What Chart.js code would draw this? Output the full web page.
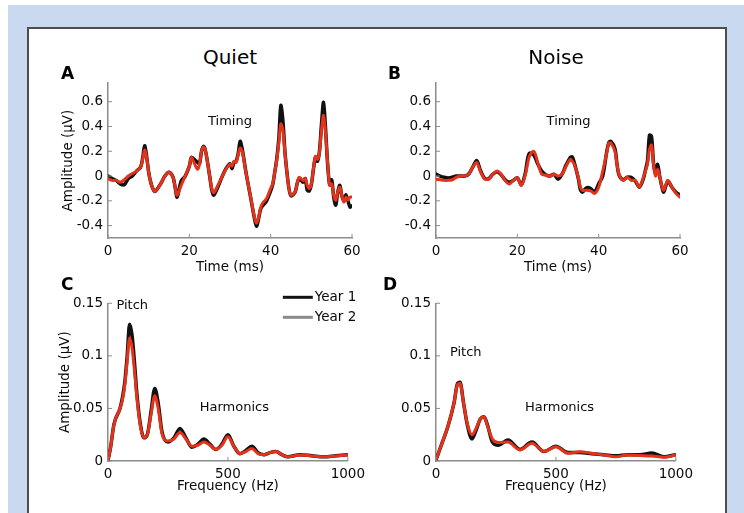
<!DOCTYPE html>
<html>
<head>
<meta charset="utf-8">
<script src="https://cdn.jsdelivr.net/npm/chart.js@4.4.1/dist/chart.umd.min.js"></script>
<style>
  html, body { margin: 0; padding: 0; background: #fff; }
  body { width: 744px; height: 513px; position: relative; overflow: hidden; font-family: "DejaVu Sans", sans-serif; }
  .bg { position: absolute; left: 8px; top: 5px; right: 0; bottom: 0; background: #c9d9ef; }
  .panel { position: absolute; left: 27px; top: 27px; width: 696px; height: 520px; background: #fff; border: 2px solid #4d4d4d; border-bottom: none; }
  canvas { position: absolute; }
  .title { position: absolute; width: 100px; text-align: center; font-size: 20px; line-height: 20px; top: 47px; color: #000; }
  .letter { position: absolute; font-weight: bold; font-size: 17px; line-height: 17px; color: #000; }
</style>
</head>
<body>
<div class="bg"></div>
<div class="panel"></div>
<canvas id="chartA" width="330" height="210" style="left:40px; top:70px"></canvas>
<canvas id="chartB" width="330" height="210" style="left:368px; top:70px"></canvas>
<canvas id="chartC" width="330" height="210" style="left:40px; top:290px"></canvas>
<canvas id="chartD" width="330" height="210" style="left:368px; top:290px"></canvas>
<div class="title" style="left:180px">Quiet</div>
<div class="title" style="left:506px">Noise</div>
<div class="letter" style="left:61px; top:65px">A</div>
<div class="letter" style="left:388px; top:65px">B</div>
<div class="letter" style="left:61px; top:276px">C</div>
<div class="letter" style="left:383px; top:276px">D</div>
<script>
// ---- data ----
const seriesNames = ['Year 1', 'Year 2'];

// A: response in quiet (time domain)
const timeQuiet = [0, 1, 2, 3, 4, 5, 6, 7, 8, 8.5, 9, 9.5, 10, 10.5, 11, 11.5, 12, 13, 14, 15, 16, 16.5, 17, 18, 19, 20, 20.5, 21, 22, 22.5, 23, 23.5, 24, 25, 25.5, 26, 27, 28, 29, 30, 30.5, 31, 31.5, 32, 32.5, 33, 33.5, 34, 35, 36, 36.5, 37, 37.5, 38, 39, 40, 40.5, 41, 41.5, 42, 42.5, 43, 43.5, 44, 44.5, 45, 46, 46.5, 47, 48, 48.5, 49, 49.5, 50, 50.5, 51, 51.5, 52, 52.5, 53, 53.5, 54, 54.5, 55, 55.5, 56, 56.5, 57, 57.5, 58, 58.5, 59, 59.5, 60];
const quietYear1 = [0.0, -0.02, -0.035, -0.063, -0.07, -0.02, 0.0, 0.04, 0.07, 0.14, 0.245, 0.16, 0.03, -0.05, -0.1, -0.125, -0.11, -0.06, 0.0, 0.03, -0.01, -0.09, -0.17, -0.04, 0.0, 0.08, 0.15, 0.14, 0.11, 0.1, 0.2, 0.24, 0.2, 0.0, -0.11, -0.155, -0.09, -0.01, 0.06, 0.1, 0.06, 0.11, 0.12, 0.18, 0.28, 0.22, 0.12, 0.016, -0.16, -0.34, -0.405, -0.35, -0.27, -0.24, -0.2, -0.12, -0.07, 0.03, 0.14, 0.3, 0.57, 0.45, 0.2, 0.03, -0.1, -0.16, -0.13, -0.063, -0.02, -0.05, -0.02, -0.115, -0.12, -0.07, 0.05, 0.15, 0.12, 0.2, 0.42, 0.595, 0.38, 0.1, -0.07, -0.03, -0.17, -0.235, -0.13, -0.075, -0.16, -0.2, -0.15, -0.2, -0.25, -0.24];
const quietYear2 = [-0.02, -0.035, -0.035, -0.05, -0.03, 0.0, 0.02, 0.04, 0.07, 0.13, 0.21, 0.15, 0.03, -0.05, -0.1, -0.125, -0.11, -0.06, 0.0, 0.03, -0.01, -0.09, -0.155, -0.075, 0.0, 0.08, 0.15, 0.12, 0.055, 0.095, 0.2, 0.235, 0.2, 0.0, -0.1, -0.135, -0.075, -0.01, 0.055, 0.095, 0.08, 0.12, 0.11, 0.17, 0.225, 0.2, 0.11, 0.016, -0.155, -0.33, -0.38, -0.34, -0.26, -0.22, -0.18, -0.1, -0.063, 0.03, 0.13, 0.265, 0.42, 0.37, 0.19, 0.03, -0.1, -0.155, -0.13, -0.063, -0.01, -0.037, -0.02, -0.075, -0.1, -0.063, 0.055, 0.16, 0.135, 0.19, 0.37, 0.49, 0.345, 0.11, -0.075, -0.063, -0.155, -0.195, -0.13, -0.09, -0.155, -0.21, -0.17, -0.195, -0.17, -0.17];

// B: response in noise (time domain)
const timeNoise = [0, 1, 2, 3, 4, 5, 6, 7, 8, 9, 10, 11, 12, 13, 14, 15, 16, 17, 18, 19, 20, 21, 22, 22.5, 23, 24, 24.5, 25, 26, 27, 28, 29, 30, 31, 32, 33, 33.5, 34, 35, 35.5, 36, 37, 38, 39, 40, 41, 42, 42.5, 43, 44, 44.5, 45, 46, 47, 48, 49, 50, 51, 51.5, 52, 52.5, 53, 53.5, 54, 54.5, 55, 55.5, 56, 57, 58, 59, 60];
const noiseYear1 = [0.015, 0, -0.01, -0.015, -0.01, 0, 0, 0, 0.015, 0.07, 0.125, 0.04, -0.02, -0.02, 0.015, 0.035, 0.01, -0.03, -0.05, -0.035, -0.015, -0.07, 0.03, 0.135, 0.185, 0.17, 0.14, 0.1, 0.04, 0.01, 0, 0.015, -0.025, 0.015, 0.09, 0.15, 0.155, 0.11, -0.02, -0.11, -0.13, -0.095, -0.1, -0.13, -0.063, 0.0, 0.2, 0.27, 0.28, 0.22, 0.1, 0.01, -0.03, -0.01, -0.01, -0.04, -0.09, -0.02, 0.05, 0.12, 0.33, 0.32, 0.1, 0.01, 0.095, 0.0, -0.08, -0.13, -0.04, -0.09, -0.13, -0.155];
const noiseYear2 = [-0.025, -0.03, -0.035, -0.035, -0.03, -0.01, 0, 0, 0.015, 0.07, 0.11, 0.03, -0.025, -0.025, 0.015, 0.04, 0.015, -0.035, -0.065, -0.035, -0.015, -0.075, 0.015, 0.095, 0.16, 0.2, 0.17, 0.11, 0.015, 0.008, 0, 0.015, 0, 0.015, 0.08, 0.135, 0.12, 0.095, -0.01, -0.09, -0.115, -0.115, -0.12, -0.14, -0.09, 0.04, 0.19, 0.265, 0.265, 0.2, 0.095, 0.015, -0.035, -0.01, -0.035, -0.035, -0.09, -0.01, 0.04, 0.095, 0.215, 0.25, 0.095, 0, 0.055, 0, -0.075, -0.115, -0.035, -0.09, -0.14, -0.17];

// C: spectrum in quiet
const freqQuiet = [0, 10, 25, 50, 60, 70, 80, 90, 100, 110, 120, 135, 150, 165, 180, 195, 210, 225, 250, 275, 300, 325, 350, 375, 400, 425, 450, 475, 500, 525, 550, 575, 600, 625, 650, 675, 700, 725, 750, 800, 850, 900, 950, 1000];
const specQuietYear1 = [0.001, 0.012, 0.035, 0.05, 0.06, 0.075, 0.1, 0.13, 0.12, 0.095, 0.065, 0.035, 0.022, 0.026, 0.048, 0.069, 0.054, 0.028, 0.018, 0.022, 0.031, 0.022, 0.013, 0.016, 0.021, 0.016, 0.011, 0.016, 0.025, 0.014, 0.007, 0.01, 0.014, 0.008, 0.006, 0.008, 0.009, 0.006, 0.004, 0.006, 0.005, 0.004, 0.005, 0.006];
const specQuietYear2 = [0.001, 0.012, 0.035, 0.05, 0.058, 0.072, 0.095, 0.117, 0.108, 0.087, 0.061, 0.033, 0.022, 0.026, 0.045, 0.062, 0.049, 0.026, 0.019, 0.021, 0.027, 0.021, 0.014, 0.015, 0.018, 0.015, 0.011, 0.015, 0.023, 0.014, 0.007, 0.009, 0.012, 0.007, 0.006, 0.008, 0.009, 0.006, 0.004, 0.0057, 0.0048, 0.004, 0.0048, 0.0057];

// D: spectrum in noise
const freqNoise = [0, 25, 50, 75, 90, 100, 115, 130, 150, 165, 185, 200, 215, 235, 260, 300, 350, 400, 450, 500, 550, 600, 650, 700, 750, 800, 850, 900, 950, 1000];
const specNoiseYear1 = [0.001, 0.017, 0.033, 0.055, 0.074, 0.075, 0.055, 0.035, 0.021, 0.028, 0.04, 0.042, 0.034, 0.018, 0.015, 0.02, 0.011, 0.018, 0.009, 0.014, 0.008, 0.008, 0.007, 0.006, 0.005, 0.006, 0.006, 0.0075, 0.004, 0.006];
const specNoiseYear2 = [0.001, 0.017, 0.033, 0.055, 0.073, 0.074, 0.055, 0.036, 0.025, 0.03, 0.04, 0.042, 0.033, 0.021, 0.0175, 0.018, 0.0105, 0.017, 0.009, 0.0136, 0.0073, 0.0089, 0.0073, 0.0057, 0.004, 0.0057, 0.0052, 0.0048, 0.0035, 0.0057];

// axis ticks
const timeTicks = [0, 20, 40, 60];
const ampTicks = [-0.4, -0.2, 0, 0.2, 0.4, 0.6];
const freqTicks = [0, 500, 1000];
const specTicks = [0, 0.05, 0.1, 0.15];

// ---- styling ----
const FONT = '"DejaVu Sans", sans-serif';
const TEXT = '#0a0a0a';
const BLACK = '#111111';
const RED = '#e4321b';
const GREY = '#8a8a8a';
const AXIS = '#8c8c8c';

// MATLAB style ticks pointing into the plot
const insideTicks = {
    id: 'insideTicks',
    afterDatasetsDraw(chart) {
        const ctx = chart.ctx;
        const x = chart.scales.x, y = chart.scales.y;
        ctx.save();
        ctx.strokeStyle = AXIS;
        ctx.lineWidth = 1;
        ctx.beginPath();
        x.ticks.forEach(t => {
            const px = x.getPixelForValue(t.value);
            ctx.moveTo(px, x.top);
            ctx.lineTo(px, x.top - 4);
        });
        y.ticks.forEach(t => {
            const py = y.getPixelForValue(t.value);
            ctx.moveTo(y.right, py);
            ctx.lineTo(y.right + 4, py);
        });
        ctx.stroke();
        ctx.restore();
    }
};

// text labels inside the plots + the little legend in panel C
const notes = {
    id: 'notes',
    afterDraw(chart, args, opts) {
        const ctx = chart.ctx;
        const x = chart.scales.x, y = chart.scales.y;
        ctx.save();
        ctx.font = '13px ' + FONT;
        ctx.fillStyle = TEXT;
        ctx.textAlign = 'center';
        ctx.textBaseline = 'middle';
        (opts.items || []).forEach(n => {
            ctx.fillText(n.text, x.getPixelForValue(n.x), y.getPixelForValue(n.y));
        });
        if (opts.legend) {
            const area = chart.chartArea;
            const colors = [BLACK, GREY];
            seriesNames.forEach((name, i) => {
                const ly = area.top - 6 + i * 20;
                ctx.strokeStyle = colors[i];
                ctx.lineWidth = 3;
                ctx.beginPath();
                ctx.moveTo(area.right - 65, ly);
                ctx.lineTo(area.right - 35, ly);
                ctx.stroke();
                ctx.textAlign = 'left';
                ctx.font = '13.5px ' + FONT;
                ctx.fillText(name, area.right - 33, ly);
            });
        }
        ctx.restore();
    }
};

function makeChart(id, cfg) {
    const line = (ys, color, width, order) => ({
        data: cfg.xs.map((v, i) => ({ x: v, y: ys[i] })),
        borderColor: color,
        borderWidth: width,
        order: order,
        pointRadius: 0,
        fill: false,
        tension: cfg.spectrum ? 0.4 : 0.3,
        cubicInterpolationMode: cfg.spectrum ? 'monotone' : 'default',
        borderJoinStyle: 'round',
        borderCapStyle: 'round'
    });

    return new Chart(document.getElementById(id).getContext('2d'), {
        type: 'line',
        data: {
            datasets: [
                Object.assign(line(cfg.y2, RED, 3, 0), { label: seriesNames[1] }),
                Object.assign(line(cfg.y1, BLACK, 3.5, 1), { label: seriesNames[0] })
            ]
        },
        options: {
            responsive: false,
            animation: false,
            events: [],
            layout: { padding: { top: cfg.top, right: 18, bottom: 0, left: 0 } },
            plugins: {
                legend: { display: false },
                tooltip: { enabled: false },
                notes: { items: cfg.notes, legend: cfg.legend }
            },
            scales: {
                x: {
                    type: 'linear',
                    min: cfg.xTicks[0],
                    max: cfg.xTicks[cfg.xTicks.length - 1],
                    afterBuildTicks: s => { s.ticks = cfg.xTicks.map(v => ({ value: v })); },
                    afterFit: s => { s.height = cfg.xh; },
                    grid: { drawOnChartArea: false, drawTicks: false },
                    border: { color: AXIS, width: 1.5 },
                    ticks: { font: { family: FONT, size: 13.5 }, color: TEXT, padding: 5, maxRotation: 0, autoSkip: false, callback: v => String(v) },
                    title: { display: true, text: cfg.xTitle, font: { family: FONT, size: 13.5 }, color: TEXT, padding: { top: 0, bottom: cfg.xtp } }
                },
                y: {
                    min: cfg.yMin,
                    max: cfg.yMax,
                    afterBuildTicks: s => { s.ticks = cfg.yTicks.map(v => ({ value: v })); },
                    afterFit: s => { s.width = 68; },
                    grid: { drawOnChartArea: false, drawTicks: false },
                    border: { color: AXIS, width: 1.5 },
                    ticks: { font: { family: FONT, size: 13.5 }, color: TEXT, padding: 5, autoSkip: false, callback: v => String(v) },
                    title: { display: cfg.yTitle, text: 'Amplitude (µV)', font: { family: FONT, size: 13.5 }, color: TEXT, padding: { top: cfg.ytp, bottom: 0 } }
                }
            }
        },
        plugins: [insideTicks, notes]
    });
}

makeChart('chartA', {
    xs: timeQuiet, y1: quietYear1, y2: quietYear2,
    xTicks: timeTicks, yTicks: ampTicks, yMin: -0.5, yMax: 0.75,
    top: 10.3, xh: 42, xtp: 4.6, ytp: 20, yTitle: true,
    xTitle: 'Time (ms)',
    notes: [{ text: 'Timing', x: 30, y: 0.44 }]
});

makeChart('chartB', {
    xs: timeNoise, y1: noiseYear1, y2: noiseYear2,
    xTicks: timeTicks, yTicks: ampTicks, yMin: -0.5, yMax: 0.75,
    top: 10.3, xh: 42, xtp: 4.6, ytp: 20, yTitle: false,
    xTitle: 'Time (ms)',
    notes: [{ text: 'Timing', x: 32.6, y: 0.44 }]
});

makeChart('chartC', {
    xs: freqQuiet, y1: specQuietYear1, y2: specQuietYear2, spectrum: true,
    xTicks: freqTicks, yTicks: specTicks, yMin: 0, yMax: 0.15,
    top: 13.3, xh: 39, xtp: 5.9, ytp: 17, yTitle: true,
    xTitle: 'Frequency (Hz)',
    notes: [{ text: 'Pitch', x: 101, y: 0.148 }, { text: 'Harmonics', x: 527, y: 0.051 }],
    legend: true
});

makeChart('chartD', {
    xs: freqNoise, y1: specNoiseYear1, y2: specNoiseYear2, spectrum: true,
    xTicks: freqTicks, yTicks: specTicks, yMin: 0, yMax: 0.15,
    top: 13.3, xh: 39, xtp: 5.9, ytp: 17, yTitle: false,
    xTitle: 'Frequency (Hz)',
    notes: [{ text: 'Pitch', x: 124, y: 0.103 }, { text: 'Harmonics', x: 515, y: 0.051 }]
});
</script>
</body>
</html>
